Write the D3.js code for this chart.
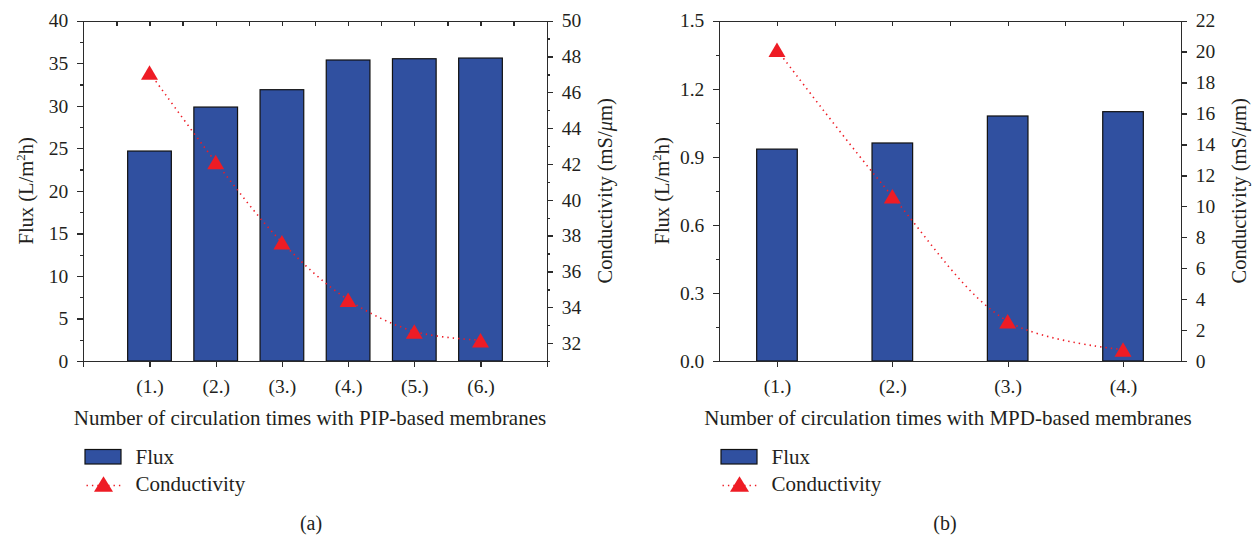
<!DOCTYPE html>
<html>
<head>
<meta charset="utf-8">
<script src="https://cdn.jsdelivr.net/npm/d3@7"></script>
<style>
  html, body { margin: 0; padding: 0; background: #fff; }
  svg { display: block; }
  text { font-family: "Liberation Serif", "DejaVu Serif", serif; fill: #231f20; }
  .axis path, .axis line { stroke: #2b2b2b; stroke-width: 1.3; shape-rendering: crispEdges; }
  .axis text { font-size: 19.5px; }
</style>
</head>
<body>
<svg id="chart" width="1252" height="535"></svg>
<script>
// ---- Data: PIP-based membranes (a) ----
const categoriesA = ["(1.)", "(2.)", "(3.)", "(4.)", "(5.)", "(6.)"];
const fluxA = [24.68, 29.85, 31.89, 35.38, 35.53, 35.61];
const conductivityA = [47.11, 42.11, 37.63, 34.42, 32.65, 32.16];
const fluxTicksA = [0, 5, 10, 15, 20, 25, 30, 35, 40];
const condTicksA = [32, 34, 36, 38, 40, 42, 44, 46, 48, 50];

// ---- Data: MPD-based membranes (b) ----
const categoriesB = ["(1.)", "(2.)", "(3.)", "(4.)"];
const fluxB = [0.934, 0.961, 1.080, 1.099];
const conductivityB = [20.12, 10.65, 2.57, 0.74];
const fluxTicksB = [0, 0.3, 0.6, 0.9, 1.2, 1.5];
const condTicksB = [0, 2, 4, 6, 8, 10, 12, 14, 16, 18, 20, 22];

const BAR_COLOR = "#3050a0";
const RED = "#ee1c25";

const svg = d3.select("#chart");

// Triangle marker centred on its bounding box
function triangle(w, h) {
  return {
    draw(ctx) {
      ctx.moveTo(0, -h / 2);
      ctx.lineTo(w / 2, h / 2);
      ctx.lineTo(-w / 2, h / 2);
      ctx.closePath();
    }
  };
}

function drawPanel(cfg) {
  const g = svg.append("g");
  const top = 20.7, bottom = 361;

  const x = d3.scaleLinear().domain(cfg.xDomain).range([cfg.left, cfg.right]);
  const yL = d3.scaleLinear().domain(cfg.yLeftDomain).range([bottom, top]);
  const yR = d3.scaleLinear().domain(cfg.yRightDomain).range([bottom, top]);
  const idx = cfg.categories.map((_, i) => i + 1);
  const barW = cfg.barFrac * (x(2) - x(1));

  // bars
  g.append("g").selectAll("rect")
    .data(cfg.flux)
    .join("rect")
    .attr("x", (d, i) => x(idx[i]) - barW / 2)
    .attr("y", d => yL(d))
    .attr("width", barW)
    .attr("height", d => yL(0) - yL(d))
    .attr("fill", BAR_COLOR)
    .attr("stroke", "#111")
    .attr("stroke-width", 1.2);

  // dotted conductivity curve
  const line = d3.line()
    .x((d, i) => x(idx[i]))
    .y(d => yR(d))
    .curve(d3.curveCatmullRom.alpha(0.5));
  g.append("path")
    .datum(cfg.cond)
    .attr("d", line)
    .attr("fill", "none")
    .attr("stroke", RED)
    .attr("stroke-width", 1.6)
    .attr("stroke-dasharray", "1.4,4");

  // triangles
  const tri = d3.symbol().type(triangle(17, 14.5));
  g.append("g").selectAll("path")
    .data(cfg.cond)
    .join("path")
    .attr("d", tri)
    .attr("transform", (d, i) => `translate(${x(idx[i])},${yR(d)})`)
    .attr("fill", RED);

  // left axis (major + minor)
  g.append("g").attr("class", "axis")
    .attr("transform", `translate(${cfg.left},0)`)
    .call(d3.axisLeft(yL).tickValues(cfg.leftTicks).tickSize(6).tickSizeOuter(0)
      .tickPadding(9).tickFormat(cfg.leftFormat));
  g.append("g").attr("class", "axis")
    .attr("transform", `translate(${cfg.left},0)`)
    .call(d3.axisLeft(yL).tickValues(cfg.leftMinor).tickSize(3).tickSizeOuter(0).tickFormat(""))
    .select(".domain").remove();

  // right axis (major + minor)
  g.append("g").attr("class", "axis")
    .attr("transform", `translate(${cfg.right},0)`)
    .call(d3.axisRight(yR).tickValues(cfg.rightTicks).tickSize(6).tickSizeOuter(0)
      .tickPadding(9).tickFormat(d3.format("d")));
  if (cfg.rightMinor.length) {
    g.append("g").attr("class", "axis")
      .attr("transform", `translate(${cfg.right},0)`)
      .call(d3.axisRight(yR).tickValues(cfg.rightMinor).tickSize(3).tickSizeOuter(0).tickFormat(""))
      .select(".domain").remove();
  }

  // bottom axis
  g.append("g").attr("class", "axis")
    .attr("transform", `translate(0,${bottom})`)
    .call(d3.axisBottom(x).tickValues(cfg.bottomTicks).tickSize(6).tickSizeOuter(0)
      .tickPadding(12.5)
      .tickFormat(v => (Number.isInteger(v) && v >= 1 && v <= cfg.categories.length) ? cfg.categories[v - 1] : ""));

  // top axis, inward ticks
  g.append("g").attr("class", "axis")
    .attr("transform", `translate(0,${top})`)
    .call(d3.axisTop(x).tickValues(cfg.topTicks).tickSize(-5).tickSizeOuter(0).tickFormat(""));

  // axis titles
  const mid = (top + bottom) / 2;
  const lt = g.append("text")
    .attr("transform", `translate(${cfg.left - 50.5},${mid}) rotate(-90)`)
    .attr("text-anchor", "middle")
    .style("font-size", "20.5px");
  lt.append("tspan").text("Flux (L/m");
  lt.append("tspan").attr("dy", -8).style("font-size", "13px").text("2");
  lt.append("tspan").attr("dy", 8).text("h)");

  const rt = g.append("text")
    .attr("transform", `translate(${cfg.right + 65.5},${mid}) rotate(-90)`)
    .attr("text-anchor", "middle")
    .style("font-size", "20.5px");
  rt.append("tspan").text("Conductivity (mS/");
  rt.append("tspan").style("font-style", "italic").text("μ");
  rt.append("tspan").text("m)");

  g.append("text")
    .attr("x", cfg.titleX).attr("y", 425)
    .attr("text-anchor", "middle")
    .style("font-size", "21px")
    .text(cfg.xTitle);

  // legend
  const lx = cfg.left + 1.7;
  g.append("rect")
    .attr("x", lx).attr("y", 449.5).attr("width", 36).attr("height", 14.5)
    .attr("fill", BAR_COLOR).attr("stroke", "#111").attr("stroke-width", 1.2);
  g.append("text").attr("x", lx + 50.5).attr("y", 463.5)
    .style("font-size", "21px").text("Flux");
  g.append("line")
    .attr("x1", lx + 1.5).attr("x2", lx + 37).attr("y1", 485.5).attr("y2", 485.5)
    .attr("stroke", RED).attr("stroke-width", 1.5).attr("stroke-dasharray", "1.4,4");
  g.append("path")
    .attr("d", d3.symbol().type(triangle(19, 15.5))())
    .attr("transform", `translate(${lx + 18.5},${484})`)
    .attr("fill", RED);
  g.append("text").attr("x", lx + 50.5).attr("y", 491)
    .style("font-size", "21px").text("Conductivity");

  g.append("text")
    .attr("x", cfg.captionX).attr("y", 530)
    .attr("text-anchor", "middle")
    .style("font-size", "20px")
    .text(cfg.caption);
}

drawPanel({
  left: 83.3, right: 546.7,
  xDomain: [0, 7],
  yLeftDomain: [0, 40], yRightDomain: [31, 50],
  categories: categoriesA, flux: fluxA, cond: conductivityA,
  barFrac: 0.66,
  leftTicks: fluxTicksA, leftMinor: d3.range(2.5, 40, 5),
  leftFormat: d3.format("d"),
  rightTicks: condTicksA, rightMinor: d3.range(31, 50, 2),
  bottomTicks: d3.range(0, 8),
  topTicks: d3.range(0.5, 7, 0.5),
  xTitle: "Number of circulation times with PIP-based membranes",
  titleX: 310, captionX: 311, caption: "(a)"
});

drawPanel({
  left: 719.3, right: 1180.7,
  xDomain: [0.5, 4.5],
  yLeftDomain: [0, 1.5], yRightDomain: [0, 22],
  categories: categoriesB, flux: fluxB, cond: conductivityB,
  barFrac: 0.352,
  leftTicks: fluxTicksB, leftMinor: d3.range(0.15, 1.5, 0.3),
  leftFormat: d3.format(".1f"),
  rightTicks: condTicksB, rightMinor: [],
  bottomTicks: [1, 2, 3, 4],
  topTicks: d3.range(1, 4.5, 0.5),
  xTitle: "Number of circulation times with MPD-based membranes",
  titleX: 948, captionX: 945, caption: "(b)"
});
</script>
</body>
</html>
